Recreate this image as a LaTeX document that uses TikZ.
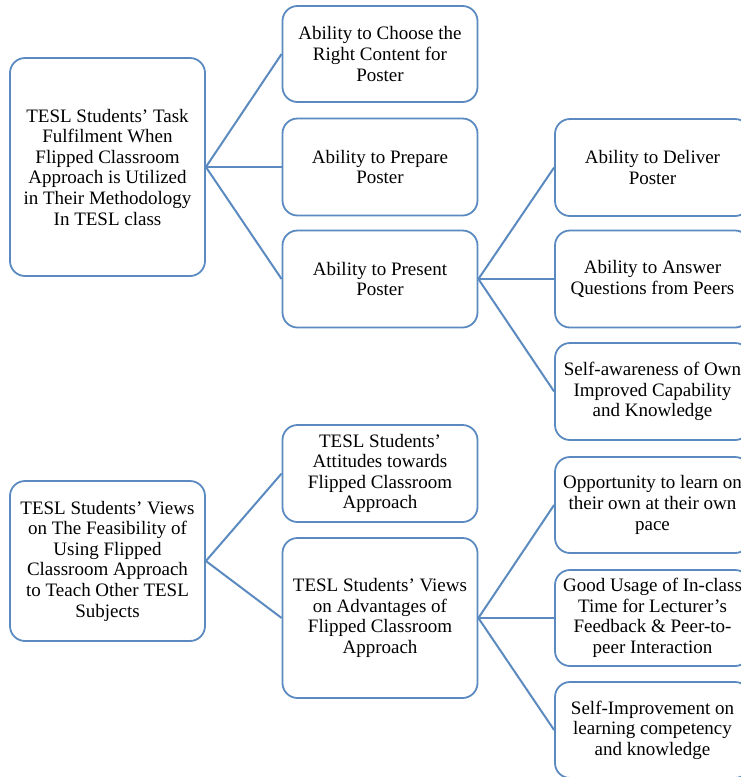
\documentclass[tikz,border=0pt]{standalone}
\usepackage{fontspec}
\setmainfont{Liberation Serif}
\definecolor{boxblue}{HTML}{5B8AC0}
\begin{document}
\begin{tikzpicture}[x=1pt,y=-1pt,
  box/.style={draw=boxblue, line width=1.8pt, rounded corners=15pt, fill=white,
    align=center, inner sep=0pt, minimum width=195pt,
    font=\fontsize{19}{20.6}\selectfont},
  conn/.style={draw=boxblue, line width=2pt},
  hconn/.style={draw=boxblue, line width=2.6pt}]
\clip (0,0) rectangle (741,777);
\useasboundingbox (0,0) rectangle (741,777);
% top group
\node[box, minimum height=218pt] (A) at (107.5,167) {TESL Students' Task\\Fulfilment When\\Flipped Classroom\\Approach is Utilized\\in Their Methodology\\In TESL class};
\node[box, minimum height=96pt] (B1) at (380,54) {Ability to Choose the\\Right Content for\\Poster};
\node[box, minimum height=97pt] (B2) at (380,167) {Ability to Prepare\\Poster};
\node[box, minimum height=97pt] (B3) at (380,279) {Ability to Present\\Poster};
\node[box, minimum height=97pt] (C1) at (652.5,167.5) {Ability to Deliver\\Poster};
\node[box, minimum height=97pt] (C2) at (652.5,279) {Ability to Answer\\Questions from Peers};
\node[box, minimum height=97pt] (C3) at (652.5,391.5) {Self-awareness of Own\\Improved Capability\\and Knowledge};
% bottom group
\node[box, minimum height=160pt] (D) at (107.5,561) {TESL Students' Views\\on The Feasibility of\\Using Flipped\\Classroom Approach\\to Teach Other TESL\\Subjects};
\node[box, minimum height=97pt] (E1) at (380,473.5) {TESL Students'\\Attitudes towards\\Flipped Classroom\\Approach};
\node[box, minimum height=160pt] (E2) at (380,618) {TESL Students' Views\\on Advantages of\\Flipped Classroom\\Approach};
\node[box, minimum height=96pt] (F1) at (652.5,505) {Opportunity to learn on\\their own at their own\\pace};
\node[box, minimum height=96pt] (F2) at (652.5,618) {Good Usage of In-class\\Time for Lecturer's\\Feedback \& Peer-to-\\peer Interaction};
\node[box, minimum height=96pt] (F3) at (652.5,730) {Self-Improvement on\\learning competency\\and knowledge};
% connectors
\draw[conn] (A.east) -- (B1.west);
\draw[hconn] (A.east) -- (B2.west);
\draw[conn] (A.east) -- (B3.west);
\draw[conn] (B3.east) -- (C1.west);
\draw[hconn] (B3.east) -- (C2.west);
\draw[conn] (B3.east) -- (C3.west);
\draw[conn] (D.east) -- (E1.west);
\draw[conn] (D.east) -- (E2.west);
\draw[conn] (E2.east) -- (F1.west);
\draw[hconn] (E2.east) -- (F2.west);
\draw[conn] (E2.east) -- (F3.west);
\end{tikzpicture}
\end{document}
